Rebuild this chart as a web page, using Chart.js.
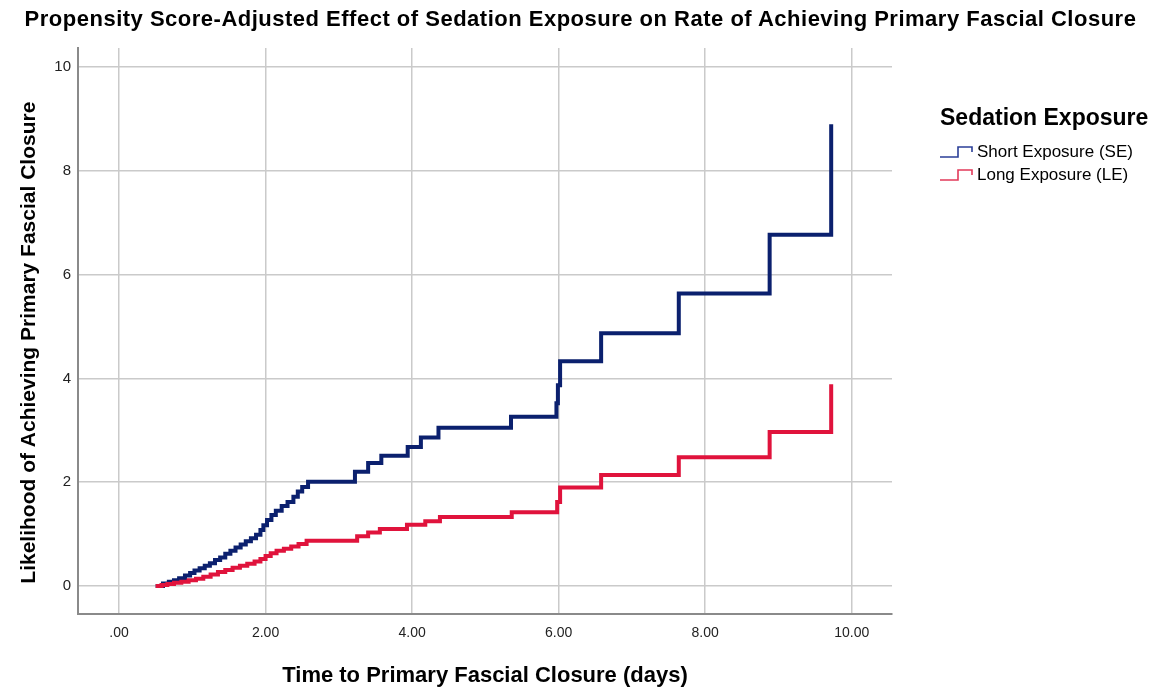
<!DOCTYPE html>
<html lang="en">
<head>
    <meta charset="UTF-8">
    <title>Sedation Exposure - Primary Fascial Closure</title>
    <script src="https://cdn.jsdelivr.net/npm/chart.js@4.4.1/dist/chart.umd.min.js"></script>
    <style>
        body { margin: 0; background: #fff; font-family: 'Liberation Sans', Arial, sans-serif; }
        #wrap { position: relative; width: 1151px; height: 687px; }
        #chartTitle { position: absolute; top: 6px; left: 5px; width: 1151px; text-align: center;
                      font-weight: bold; font-size: 22px; letter-spacing: 0.5px; color: #000; white-space: nowrap; }
        #legend { position: absolute; left: 940px; top: 104px; color: #000; }
        #legend .head { font-weight: bold; font-size: 23px; margin-bottom: 9px; white-space: nowrap; }
        #legend .item { display: flex; align-items: center; font-size: 17px; height: 23px; white-space: nowrap; }
        #legend svg { margin-right: 3px; }
    </style>
</head>
<body>
<div id="wrap">
    <canvas id="kmChart" width="1151" height="687"></canvas>
    <div id="chartTitle">Propensity Score-Adjusted Effect of Sedation Exposure on Rate of Achieving Primary Fascial Closure</div>
    <div id="legend">
        <div class="head">Sedation Exposure</div>
        <div class="item">
            <svg width="34" height="14"><polyline points="0,12 18,12 18,2 32,2 32,7" fill="none" stroke="#2b3f98" stroke-width="1.6"/></svg>
            <span>Short Exposure (SE)</span>
        </div>
        <div class="item">
            <svg width="34" height="14"><polyline points="0,12 18,12 18,2 32,2 32,7" fill="none" stroke="#e23a5a" stroke-width="1.6"/></svg>
            <span>Long Exposure (LE)</span>
        </div>
    </div>
</div>

<script>
    // Short exposure (SE) - event times (days) and cumulative likelihood
    const seTime = [0.50, 0.60, 0.68, 0.75, 0.82, 0.90, 0.97, 1.03, 1.10, 1.17, 1.24, 1.31, 1.38, 1.45,
                    1.52, 1.59, 1.66, 1.73, 1.80, 1.87, 1.93, 1.97, 2.02, 2.08, 2.14, 2.22, 2.30, 2.38,
                    2.44, 2.50, 2.58, 3.22, 3.40, 3.58, 3.94, 4.12, 4.36, 5.35, 5.97, 5.99, 6.02,
                    6.58, 7.64, 8.88, 9.72];
    const seValue = [0.00, 0.05, 0.08, 0.11, 0.15, 0.20, 0.25, 0.30, 0.34, 0.39, 0.44, 0.50, 0.55, 0.62,
                     0.68, 0.74, 0.80, 0.86, 0.92, 0.99, 1.08, 1.17, 1.27, 1.37, 1.45, 1.54, 1.62, 1.72,
                     1.82, 1.91, 2.01, 2.20, 2.37, 2.51, 2.68, 2.86, 3.05, 3.26, 3.52, 3.87, 4.33,
                     4.87, 5.64, 6.77, 8.90];

    // Long exposure (LE)
    const leTime = [0.50, 0.58, 0.66, 0.75, 0.85, 0.95, 1.05, 1.15, 1.25, 1.35, 1.45, 1.55, 1.65, 1.75,
                    1.85, 1.93, 2.00, 2.07, 2.15, 2.25, 2.35, 2.45, 2.56, 3.25, 3.40, 3.56, 3.93, 4.18,
                    4.38, 5.36, 5.98, 6.02, 6.58, 7.64, 8.88, 9.72];
    const leValue = [0.00, 0.02, 0.04, 0.06, 0.08, 0.11, 0.14, 0.18, 0.22, 0.27, 0.31, 0.35, 0.39, 0.43,
                     0.47, 0.52, 0.58, 0.63, 0.68, 0.72, 0.76, 0.81, 0.87, 0.96, 1.03, 1.10, 1.18, 1.25,
                     1.33, 1.42, 1.62, 1.90, 2.14, 2.48, 2.97, 3.89];

    const xTicks = [0, 2, 4, 6, 8, 10];
    const xTickLabels = ['.00', '2.00', '4.00', '6.00', '8.00', '10.00'];
    const yTicks = [0, 2, 4, 6, 8, 10];

    const toPoints = (ts, vs) => ts.map((t, i) => ({ x: t, y: vs[i] }));

    const gridColor = '#cacaca';
    const axisColor = '#8a8a8a';

    new Chart(document.getElementById('kmChart'), {
        type: 'line',
        data: {
            datasets: [{
                label: 'Short Exposure (SE)',
                data: toPoints(seTime, seValue),
                borderColor: '#0b206e',
                borderWidth: 4,
                stepped: 'before',
                pointRadius: 0,
                fill: false,
                order: 1
            }, {
                label: 'Long Exposure (LE)',
                data: toPoints(leTime, leValue),
                borderColor: '#e0133c',
                borderWidth: 4,
                stepped: 'before',
                pointRadius: 0,
                fill: false,
                order: 0
            }]
        },
        options: {
            responsive: false,
            animation: false,
            layout: { padding: { top: 48, right: 259, left: 0, bottom: 0 } },
            plugins: {
                legend: { display: false },
                title: { display: false },
                tooltip: { enabled: false }
            },
            scales: {
                x: {
                    type: 'linear',
                    min: -0.56,
                    max: 10.55,
                    afterBuildTicks: s => { s.ticks = xTicks.map(v => ({ value: v })); },
                    afterFit: s => { s.height = 73; },
                    grid: { color: gridColor, lineWidth: 1.5, drawTicks: false },
                    border: { color: axisColor, width: 2 },
                    ticks: {
                        padding: 11,
                        color: '#222',
                        font: { family: "'Liberation Sans', Arial", size: 14 },
                        callback: (v, i) => xTickLabels[i]
                    },
                    title: {
                        display: true,
                        text: 'Time to Primary Fascial Closure (days)',
                        color: '#000',
                        font: { family: "'Liberation Sans', Arial", size: 22, weight: 'bold' },
                        padding: { top: 0, bottom: -2 }
                    }
                },
                y: {
                    min: -0.54,
                    max: 10.37,
                    afterBuildTicks: s => { s.ticks = yTicks.map(v => ({ value: v })); },
                    afterFit: s => { s.width = 78; },
                    grid: { color: gridColor, lineWidth: 1.5, drawTicks: false },
                    border: { color: axisColor, width: 2 },
                    ticks: {
                        padding: 7,
                        color: '#222',
                        font: { family: "'Liberation Sans', Arial", size: 15 }
                    },
                    title: {
                        display: true,
                        // trailing spaces nudge the rotated title down a little, like the original
                        text: 'Likelihood of Achieving Primary Fascial Closure    ',
                        color: '#000',
                        font: { family: "'Liberation Sans', Arial", size: 21, weight: 'bold' },
                        padding: { top: 17, bottom: 0 }
                    }
                }
            }
        }
    });
</script>
</body>
</html>
